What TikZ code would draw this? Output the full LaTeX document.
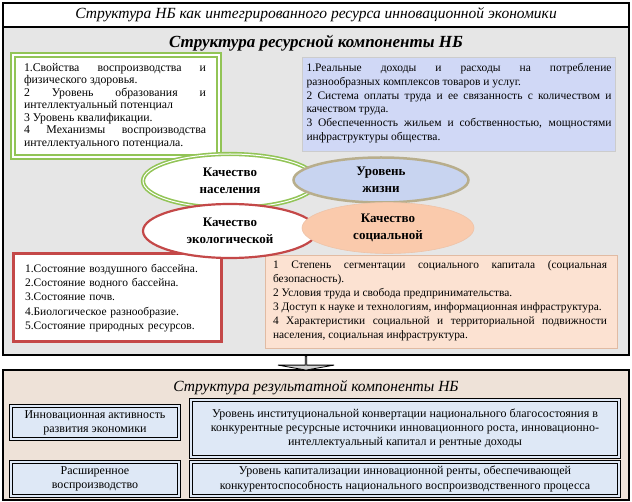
\documentclass[tikz,border=0pt]{standalone}
\usepackage{fontspec}
\setmainfont{Liberation Serif}
\usepackage{xcolor}
\usepackage{tikz}
\usetikzlibrary{shapes,arrows,positioning,calc}

\definecolor{grn}{RGB}{146,196,86}
\definecolor{redc}{RGB}{196,72,72}
\definecolor{tanc}{RGB}{184,174,140}
\definecolor{bluef}{RGB}{208,216,246}
\definecolor{bluee}{RGB}{200,212,240}
\definecolor{orangee}{RGB}{250,202,172}
\definecolor{orangef}{RGB}{252,226,210}
\definecolor{upperf}{RGB}{230,230,230}
\definecolor{lowerf}{RGB}{238,226,216}
\definecolor{resf}{RGB}{222,232,246}

\begin{document}
\begin{tikzpicture}[
    x=1pt, y=-1pt,
    frame/.style={draw=black, line width=2.5pt, inner sep=0pt},
    heading/.style={font=\fontsize{15.5}{18}\selectfont\itshape},
    listtext/.style={inner sep=0pt, align=justify, font=\fontsize{11.8}{12.5}\selectfont},
    quality/.style={ellipse, inner sep=0pt, align=center,
        font=\fontsize{13}{17}\selectfont\bfseries},
    resbox/.style={draw=black, line width=0.8pt, double=resf, double distance=1.6pt,
        fill=resf, inner sep=0pt, align=center, font=\fontsize{12}{14}\selectfont}
]
\useasboundingbox (0,0) rectangle (632,502);

% Title
\node[frame, fill=white, minimum width=626pt, minimum height=24pt] (top) at (316,15) {};
\node[heading] (toptext) at (316,15) {Структура НБ как интегрированного ресурса инновационной экономики};

% Resource component
\node[frame, fill=upperf, minimum width=626pt, minimum height=328pt] (upper) at (316,191) {};
\node[heading, font=\fontsize{17}{19}\selectfont\itshape\bfseries] (uppertext) at (316,43) {Структура ресурсной компоненты НБ};

\node[draw=grn, line width=2pt, double=white, double distance=1.4pt, fill=white,
    minimum width=206pt, minimum height=102pt] (popbox) at (116,106) {};
\node[listtext, text width=182pt] (poptext) at (115,106) {1.Свойства воспроизводства и\linebreak
    физического здоровья.\\
    2 Уровень образования и\linebreak
    интеллектуальный потенциал\\
    3 Уровень квалификации.\\
    4 Механизмы воспроизводства\linebreak
    интеллектуального потенциала.};

\node[draw=gray!40, line width=1pt, fill=bluef, minimum width=313pt, minimum height=94pt] (lifebox) at (458.5,105) {};
\node[listtext, text width=305pt, font=\fontsize{11.5}{13.7}\selectfont] (lifetext) at (459,103) {1.Реальные доходы и расходы на потребление\linebreak
    разнообразных комплексов товаров и услуг.\\
    2 Система оплаты труда и ее связанность с количеством и\linebreak
    качеством труда.\\
    3 Обеспеченность жильем и собственностью, мощностями\linebreak
    инфраструктуры общества.};

\node[draw=redc, line width=3pt, fill=white, minimum width=208pt, minimum height=88pt] (ecobox) at (117,298) {};
\node[listtext, align=left, text width=185pt, font=\fontsize{11.5}{14.3}\selectfont] (ecotext) at (117.5,298) {1.Состояние воздушного бассейна.\\
    2.Состояние водного бассейна.\\
    3.Состояние почв.\\
    4.Биологическое разнообразие.\\
    5.Состояние природных ресурсов.};

\node[draw=orangee!80!gray, line width=0.8pt, fill=orangef, minimum width=352pt, minimum height=93pt] (socbox) at (441,301.5) {};
\node[listtext, text width=334pt, font=\fontsize{11.4}{14}\selectfont] (soctext) at (440,301) {1 Степень сегментации социального капитала (социальная\linebreak
    безопасность).\\
    2 Условия труда и свобода предпринимательства.\\
    3 Доступ к науке и технологиям, информационная инфраструктура.\\
    4 Характеристики социальной и территориальной подвижности\linebreak
    населения, социальная инфраструктура.};

% Quality ellipses
\node[quality, draw=grn, line width=1.6pt, double=white, double distance=1pt, fill=white,
    minimum width=174pt, minimum height=54pt] (pop) at (230,181) {Качество\\населения};
\node[quality, draw=tanc, line width=2.5pt, fill=bluee,
    minimum width=175pt, minimum height=45pt] (life) at (381,180) {Уровень\\жизни};
\node[quality, draw=redc, line width=2.2pt, fill=white,
    minimum width=174pt, minimum height=54pt] (eco) at (230,231) {Качество\\экологической};
\node[quality, draw=orangee!90!gray, line width=0.6pt, fill=orangee,
    minimum width=172pt, minimum height=51pt] (soc) at (388,228) {Качество\\социальной};

% Result component
\node[frame, fill=lowerf, minimum width=626pt, minimum height=130pt] (lower) at (316,435) {};
\node[heading] (lowertext) at (316,388) {Структура результатной компоненты НБ};

\node[single arrow, shape border rotate=270, draw=black, line width=0.8pt, fill=gray!35,
    minimum height=14pt, minimum width=56pt, single arrow head extend=14pt,
    single arrow tip angle=160, inner sep=0pt] (flow) at (306,363) {};

\node[resbox, minimum width=168pt, minimum height=33pt] (innov) at (95,422.5) {Инновационная активность\\развития экономики};
\node[resbox, minimum width=428pt, minimum height=57pt] (convert) at (405,428.5) {Уровень институциональной конвертации национального благосостояния в\\
    конкурентные ресурсные источники инновационного роста, инновационно-\\
    интеллектуальный капитал и рентные доходы};
\node[resbox, minimum width=168pt, minimum height=34pt] (repro) at (95,479) {Расширенное\\воспроизводство};
\node[resbox, minimum width=428pt, minimum height=34pt] (capital) at (405,479) {Уровень капитализации инновационной ренты, обеспечивающей\\
    конкурентоспособность национального воспроизводственного процесса};
\end{tikzpicture}
\end{document}
